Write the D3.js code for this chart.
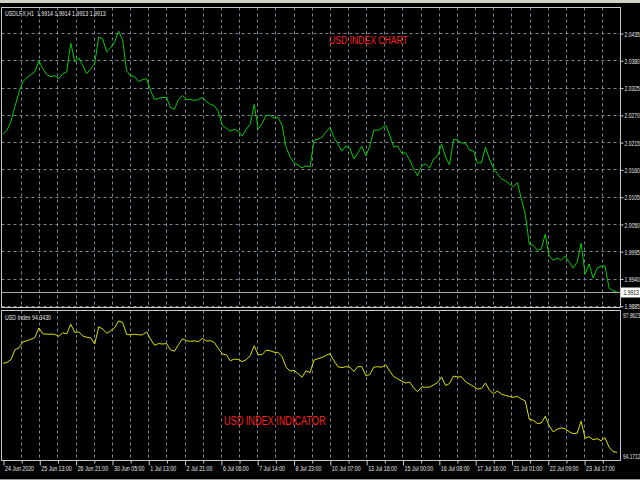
<!DOCTYPE html>
<html><head><meta charset="utf-8">
<script src="https://cdn.jsdelivr.net/npm/d3@7"></script>
<style>html,body{margin:0;padding:0;background:#000;overflow:hidden}svg{display:block}</style>
</head><body>
<script>
// ---------- data ----------
const priceSeries = [
 2.0231, 2.0239, 2.0257, 2.0287, 2.0315, 2.0337, 2.0345, 2.0351, 2.0357, 2.0379,
 2.0363, 2.0351, 2.0347, 2.0349, 2.0343, 2.0353, 2.0357, 2.0415, 2.0377, 2.0385,
 2.0369, 2.0353, 2.0363, 2.0373, 2.0427, 2.0423, 2.0397, 2.0405, 2.0417, 2.0439,
 2.0421, 2.0359, 2.0349, 2.0347, 2.0337, 2.0341, 2.0343, 2.0319, 2.0301, 2.0303,
 2.0305, 2.0305, 2.0285, 2.0281, 2.0301, 2.0309, 2.0301, 2.0301, 2.0299, 2.0301,
 2.0305, 2.0297, 2.0291, 2.0289, 2.0277, 2.0249, 2.0243, 2.0237, 2.0241, 2.0237,
 2.0227, 2.0241, 2.0251, 2.0291, 2.0241, 2.0253, 2.0269, 2.0269, 2.0263, 2.0265,
 2.0249, 2.0205, 2.0185, 2.0173, 2.0169, 2.0163, 2.0167, 2.0165, 2.0219, 2.0221,
 2.0225, 2.0235, 2.0245, 2.0225, 2.0211, 2.0197, 2.0207, 2.0203, 2.0181, 2.0193,
 2.0207, 2.0187, 2.0207, 2.0239, 2.0239, 2.0243, 2.0249, 2.0229, 2.0205, 2.0207,
 2.0193, 2.0193, 2.0179, 2.0161, 2.0147, 2.0167, 2.0171, 2.0163, 2.0181, 2.0187,
 2.0211, 2.0185, 2.0169, 2.0221, 2.0219, 2.0213, 2.0213, 2.0199, 2.0197, 2.0173,
 2.0173, 2.0205, 2.0181, 2.0163, 2.0151, 2.0141, 2.0137, 2.0131, 2.0125, 2.0133,
 2.0101, 2.0069, 2.0009, 2.0007, 1.9997, 1.9999, 2.0029, 1.9985, 1.9977, 1.9981,
 1.9977, 1.9985, 1.9973, 1.9961, 1.9973, 2.0011, 1.9949, 1.9969, 1.9941, 1.9961,
 1.9965, 1.9965, 1.9921, 1.9915, 1.9913
];
const indexSeries = [
 96.638, 96.663, 96.732, 96.989, 97.040, 97.194, 97.219, 97.258, 97.304, 97.552,
 97.399, 97.391, 97.391, 97.386, 97.335, 97.424, 97.399, 97.647, 97.437, 97.450,
 97.347, 97.309, 97.296, 97.135, 97.578, 97.527, 97.411, 97.475, 97.552, 97.732,
 97.693, 97.386, 97.373, 97.391, 97.373, 97.373, 97.450, 97.270, 97.104, 97.148,
 97.137, 97.148, 96.989, 96.950, 97.117, 97.270, 97.224, 97.204, 97.219, 97.194,
 97.283, 97.214, 97.224, 97.176, 97.027, 96.879, 96.861, 96.707, 96.745, 96.740,
 96.681, 96.732, 96.835, 97.091, 96.861, 96.861, 96.981, 96.963, 96.925, 96.919,
 96.809, 96.540, 96.438, 96.458, 96.374, 96.279, 96.446, 96.399, 96.720, 96.758,
 96.789, 96.840, 96.886, 96.707, 96.553, 96.528, 96.553, 96.540, 96.430, 96.553,
 96.553, 96.323, 96.348, 96.540, 96.553, 96.538, 96.604, 96.438, 96.297, 96.238,
 96.182, 96.130, 96.156, 96.002, 95.908, 96.028, 96.023, 96.023, 96.084, 96.143,
 96.284, 96.066, 96.118, 96.310, 96.284, 96.292, 96.164, 96.105, 96.041, 95.977,
 95.989, 96.130, 95.951, 95.854, 95.925, 95.849, 95.810, 95.785, 95.764, 95.785,
 95.720, 95.669, 95.195, 95.170, 95.088, 95.098, 95.272, 95.029, 94.870, 94.939,
 94.972, 94.952, 94.875, 94.824, 94.837, 95.144, 94.708, 94.747, 94.670, 94.696,
 94.644, 94.721, 94.478, 94.363, 94.343
];
const timeLabels = ["24 Jun 2020","25 Jun 13:00","26 Jun 21:00","30 Jun 05:00","1 Jul 13:00",
 "2 Jul 21:00","6 Jul 06:00","7 Jul 14:00","8 Jul 23:00","10 Jul 07:00","13 Jul 16:00",
 "15 Jul 00:00","16 Jul 08:00","17 Jul 16:00","21 Jul 01:00","22 Jul 09:00","23 Jul 17:00"];
const priceTicks = [2.0435, 2.0380, 2.0325, 2.0270, 2.0215, 2.0160, 2.0105, 2.0050, 1.9995, 1.9940, 1.9885];
const currentPrice = 1.9913;
const indexMax = 97.9623, indexMin = 94.1712;
const headerText = "USDLFX,H1  1.9914 1.9914 1.9913 1.9913";
const indexHeaderText = "USD Index 94.3430";
const chartTitle = "USD INDEX CHART";
const indicatorTitle = "USD INDEX INDICATOR";
const totalBars = 541;          // hourly bars across the plot
const barsPerLabel = 32, barsPerGrid = 16;

// ---------- drawing ----------
const W = 640, H = 480;
const FONT = "'Liberation Sans',Arial,sans-serif";
const GRID = "#778899", FRAME = "#c8c8c8", TXT = "#e8e8e8";
const frameL = 1.5, frameR = 620.5;
const topP = {y0: 7.5, y1: 307.5}, botP = {y0: 310.5, y1: 460.5};

// narrow the glyphs horizontally (the original uses a condensed UI font)
function squeeze(sel, k) {
  sel.each(function () {
    const s = d3.select(this);
    const x0 = (+s.attr("x") || 0) + (parseFloat(s.attr("dx")) || 0);
    s.attr("x", 0).attr("dx", null).attr("transform", `translate(${x0},0) scale(${k},1)`);
  });
}

const svg = d3.select("body").append("svg").attr("width", W).attr("height", H);
svg.append("rect").attr("width", W).attr("height", H).attr("fill", "#000");
svg.append("rect").attr("width", W).attr("height", 3).attr("fill", "#d4d0c8");
svg.append("line").attr("x1", 0).attr("x2", W).attr("y1", 479.5).attr("y2", 479.5).attr("stroke", "#9a9a9a");

const x = d3.scaleLinear().domain([0, totalBars]).range([3, 617]);
const barOf = i => i * totalBars / (priceSeries.length - 1);
const yP = d3.scaleLinear().domain([1.9940, 2.0435]).range([278.5, 33]);
const yI = d3.scaleLinear().domain([indexMin, indexMax]).range([459, 312]);

const gridBars = d3.range(barsPerGrid, totalBars, barsPerGrid);
const labelBars = timeLabels.map((_, k) => k * barsPerLabel);

// vertical grid in both panels
[topP, botP].forEach(p => {
  svg.append("g").selectAll("line").data(gridBars).join("line")
    .attr("x1", d => Math.round(x(d)) + 0.5).attr("x2", d => Math.round(x(d)) + 0.5)
    .attr("y1", p.y0).attr("y2", p.y1)
    .attr("stroke", GRID).attr("stroke-dasharray", "3,3");
});

// horizontal grid + right axis (top panel)
svg.append("g").selectAll("line").data(priceTicks).join("line")
  .attr("x1", frameL).attr("x2", frameR)
  .attr("y1", d => Math.round(yP(d)) + 0.5).attr("y2", d => Math.round(yP(d)) + 0.5)
  .attr("stroke", GRID).attr("stroke-dasharray", "3,3");

const yAxis = d3.axisRight(yP).tickValues(priceTicks).tickSize(3).tickFormat(d3.format(".4f"));
const ga = svg.append("g").attr("transform", `translate(${frameR},0.5)`).call(yAxis);
ga.select(".domain").remove();
ga.selectAll("line").attr("stroke", FRAME);
ga.selectAll("text").attr("fill", TXT).attr("font-family", FONT).attr("font-size", 8).attr("x", 4);
squeeze(ga.selectAll("text"), 0.63);

// current price line + label
const yc = Math.round(yP(currentPrice)) + 0.5;
svg.append("line").attr("x1", frameL).attr("x2", frameR).attr("y1", yc).attr("y2", yc).attr("stroke", "#a8a8a8");
svg.append("rect").attr("x", 621).attr("y", yc - 5).attr("width", 19).attr("height", 10).attr("fill", "#fff");
const cp = svg.append("text").attr("x", 623.5).attr("y", yc + 3).attr("fill", "#000")
  .attr("font-family", FONT).attr("font-size", 8).text(d3.format(".4f")(currentPrice));
squeeze(cp, 0.63);

// price line
svg.append("path").datum(priceSeries)
  .attr("d", d3.line().x((d, i) => x(barOf(i))).y(d => yP(d)))
  .attr("fill", "none").attr("stroke", "#00cc00").attr("stroke-width", 1);

// index line
svg.append("path").datum(indexSeries)
  .attr("d", d3.line().x((d, i) => x(barOf(i))).y(d => yI(d)))
  .attr("fill", "none").attr("stroke", "#e0e000").attr("stroke-width", 1);

// frames
[topP, botP].forEach(p => {
  svg.append("rect").attr("x", frameL).attr("y", p.y0).attr("width", frameR - frameL).attr("height", p.y1 - p.y0)
    .attr("fill", "none").attr("stroke", FRAME);
});

// indicator scale labels
[[indexMax, 318], [indexMin, 459]].forEach(([v, yy]) => {
  const t = svg.append("text").attr("x", 623).attr("y", yy).attr("fill", TXT)
    .attr("font-family", FONT).attr("font-size", 8).text(d3.format(".4f")(v));
  squeeze(t, 0.6);
});

// x axis
const xAxis = d3.axisBottom(x).tickValues([0, ...gridBars]).tickSize(3)
  .tickFormat(d => { const k = labelBars.indexOf(d); return k >= 0 ? timeLabels[k] : ""; });
const gx = svg.append("g").attr("transform", `translate(0.5,${botP.y1})`).call(xAxis);
gx.select(".domain").remove();
gx.selectAll("line").attr("stroke", FRAME).attr("y2", d => labelBars.includes(d) ? 5 : 3);
gx.selectAll("text").attr("fill", TXT).attr("font-family", FONT).attr("font-size", 8)
  .attr("text-anchor", "start").attr("dx", 1).attr("y", 5);
squeeze(gx.selectAll("text"), 0.66);

// header texts
const h1 = svg.append("text").attr("x", 5).attr("y", 16).attr("fill", TXT).attr("font-family", FONT)
  .attr("font-size", 8).attr("xml:space", "preserve").text(headerText);
squeeze(h1, 0.66);
const h2 = svg.append("text").attr("x", 5).attr("y", 320).attr("fill", TXT).attr("font-family", FONT)
  .attr("font-size", 8).text(indexHeaderText);
squeeze(h2, 0.66);

// red titles
const t1 = svg.append("text").attr("x", 329).attr("y", 44).attr("fill", "#ff1e1e").attr("font-family", FONT)
  .attr("font-size", 11.5).text(chartTitle);
squeeze(t1, 0.75);
const t2 = svg.append("text").attr("x", 224).attr("y", 425).attr("fill", "#ff1e1e").attr("font-family", FONT)
  .attr("font-size", 12.5).text(indicatorTitle);
squeeze(t2, 0.73);
</script>
</body></html>
